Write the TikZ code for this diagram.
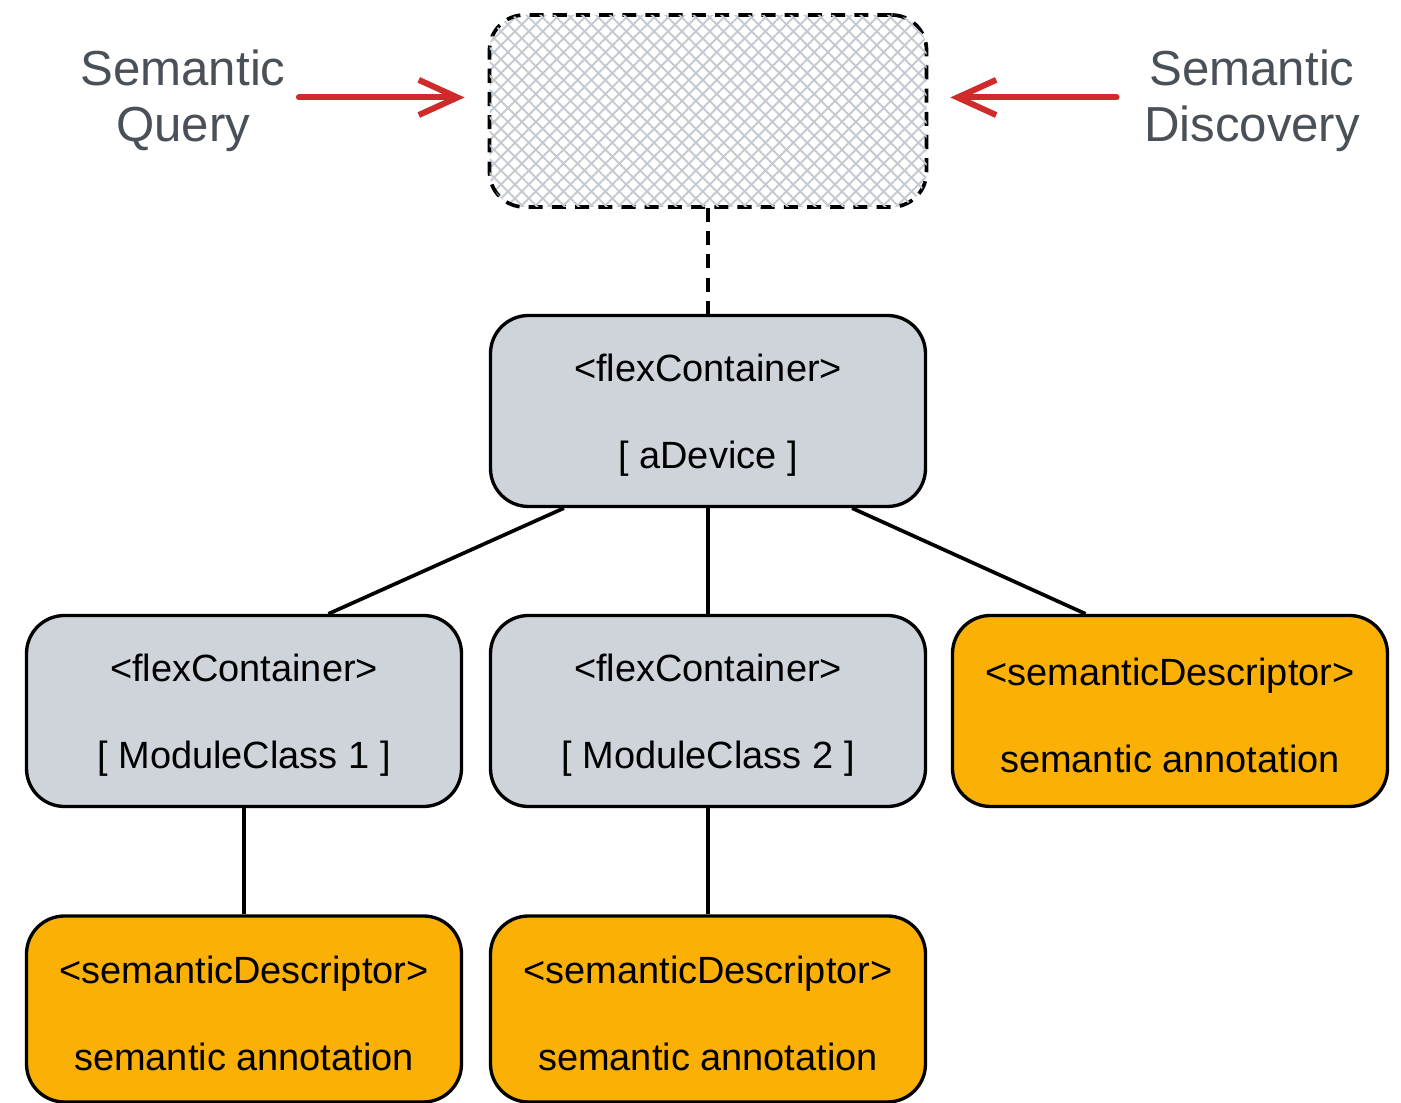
\documentclass[tikz,border=0pt]{standalone}
\usepackage{fontspec}
\setmainfont{Liberation Sans}
\usetikzlibrary{arrows.meta,patterns.meta}
\definecolor{boxgray}{HTML}{CED4DA}
\definecolor{boxorange}{HTML}{FAB005}
\definecolor{arrowred}{HTML}{D02B2B}
\definecolor{labelgray}{HTML}{495057}
\definecolor{hatchgray}{HTML}{C4CAD2}
\newcommand{\boxstrut}{\rule{0pt}{10.4pt}}

\begin{document}
\begin{tikzpicture}[x=0.1mm, y=-0.1mm,
	box/.style={draw, line width=0.95pt, rounded corners=3.8mm, minimum width=43.5mm, minimum height=19.1mm, inner sep=0pt, align=center, font=\fontsize{10.8}{24.7}\selectfont},
	container/.style={box, fill=boxgray},
	descriptor/.style={box, fill=boxorange},
	side/.style={text=labelgray, align=center, inner sep=0pt, font=\fontsize{14}{16}\selectfont},
	search/.style={draw=arrowred, line width=1.7pt, line cap=round, -{Straight Barb[length=11pt, width=10pt]}},
	link/.style={line width=1.05pt}]
	\useasboundingbox (0,0) rectangle (1401,1103);

	% search entry point
	\node[draw, line width=1.05pt, dash pattern=on 4pt off 2.6pt, rounded corners=3.5mm, minimum width=43.7mm, minimum height=19.2mm,
		pattern={Lines[angle=45, distance=2.8pt, line width=0.55pt]}, pattern color=hatchgray,
		postaction={pattern={Lines[angle=-45, distance=2.8pt, line width=0.55pt]}, pattern color=hatchgray}] (hub) at (708,111) {};
	\node[side] (query) at (183,101) {Semantic\\Query};
	\node[side] (discovery) at (1252,101) {Semantic\\Discovery};
	\draw[search, shorten <=3.6pt, shorten >=6.8pt] ([yshift=1pt]query.east) -- ([yshift=1pt]query.east -| hub.west);
	\draw[search, shorten <=7.6pt, shorten >=6.5pt] ([yshift=1pt]discovery.west) -- ([yshift=1pt]discovery.west -| hub.east);

	% resource tree
	\node[container] (dev) at (708,411) {\boxstrut<flexContainer>\\{}[ aDevice ]};
	\node[container] (mc1) at (244,711) {\boxstrut<flexContainer>\\{}[ ModuleClass 1 ]};
	\node[container] (mc2) at (708,711) {\boxstrut<flexContainer>\\{}[ ModuleClass 2 ]};
	\node[descriptor] (sd0) at (1170,711) {\boxstrut<semanticDescriptor>\\semantic annotation};
	\node[descriptor, minimum height=18.6mm] (sd1) at (244,1009) {\boxstrut<semanticDescriptor>\\semantic annotation};
	\node[descriptor, minimum height=18.6mm] (sd2) at (708,1009) {\boxstrut<semanticDescriptor>\\semantic annotation};

	\draw[line width=1.05pt, dash pattern=on 4pt off 2.6pt] (hub) -- (dev);
	\draw[link] (dev.214) -- (mc1.49);
	\draw[link] (dev) -- (mc2);
	\draw[link] (dev.326) -- (sd0.131);
	\draw[link] (mc1) -- (sd1);
	\draw[link] (mc2) -- (sd2);
\end{tikzpicture}
\end{document}
